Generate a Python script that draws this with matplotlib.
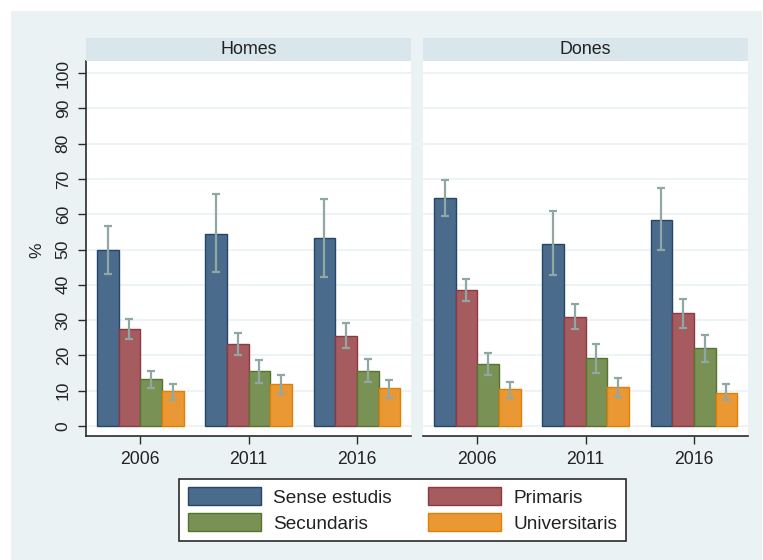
import matplotlib
matplotlib.use('Agg')
import matplotlib.pyplot as plt
from matplotlib.patches import Rectangle, Patch
import numpy as np

plt.rcParams['font.family'] = ['Liberation Sans', 'DejaVu Sans']

years = ['2006', '2011', '2016']
panels = ['Homes', 'Dones']
levels = ['Sense estudis', 'Primaris', 'Secundaris', 'Universitaris']

# Homes: value, lower CI, upper CI (per year)
homes_sense = [50.0, 54.5, 53.4]
homes_sense_lo = [43.1, 43.5, 42.1]
homes_sense_hi = [56.7, 65.7, 64.3]
homes_prim = [27.5, 23.1, 25.5]
homes_prim_lo = [24.7, 20.0, 22.0]
homes_prim_hi = [30.2, 26.4, 29.2]
homes_sec = [13.2, 15.6, 15.6]
homes_sec_lo = [10.7, 12.3, 12.5]
homes_sec_hi = [15.6, 18.6, 19.0]
homes_univ = [9.9, 11.9, 10.9]
homes_univ_lo = [7.4, 9.1, 8.0]
homes_univ_hi = [11.8, 14.5, 13.1]

# Dones
dones_sense = [64.6, 51.6, 58.4]
dones_sense_lo = [59.5, 42.8, 49.9]
dones_sense_hi = [69.8, 60.9, 67.3]
dones_prim = [38.4, 31.0, 31.9]
dones_prim_lo = [35.3, 27.5, 27.8]
dones_prim_hi = [41.6, 34.7, 36.1]
dones_sec = [17.6, 19.3, 22.0]
dones_sec_lo = [14.5, 15.1, 18.2]
dones_sec_hi = [20.8, 23.1, 25.9]
dones_univ = [10.5, 11.1, 9.4]
dones_univ_lo = [7.9, 8.3, 7.4]
dones_univ_hi = [12.6, 13.5, 11.8]

yticks = [0, 10, 20, 30, 40, 50, 60, 70, 80, 90, 100]

data = {
    'Homes': [(homes_sense, homes_sense_lo, homes_sense_hi),
              (homes_prim, homes_prim_lo, homes_prim_hi),
              (homes_sec, homes_sec_lo, homes_sec_hi),
              (homes_univ, homes_univ_lo, homes_univ_hi)],
    'Dones': [(dones_sense, dones_sense_lo, dones_sense_hi),
              (dones_prim, dones_prim_lo, dones_prim_hi),
              (dones_sec, dones_sec_lo, dones_sec_hi),
              (dones_univ, dones_univ_lo, dones_univ_hi)],
}

fills = ['#4A6B8B', '#A65B5F', '#7A9155', '#EA9834']
edges = ['#23466C', '#8C3A42', '#55752F', '#E27F05']
err_color = '#8FA8A3'
bg = '#EAF2F3'
strip_c = '#D9E6EB'
dark = '#2B2B2B'

W, H = 763, 560
fig = plt.figure(figsize=(W / 100, H / 100), dpi=100, facecolor='white')
fig.patches.append(Rectangle((11 / W, 0), (762 - 11) / W, (H - 11) / H,
                             transform=fig.transFigure, facecolor=bg,
                             edgecolor='none', zorder=-10))

ax_lefts = [86, 423]
ax_w = 325
ax_top, ax_bot = 61, 436
strip_top = 38

for i, p in enumerate(panels):
    l = ax_lefts[i]
    ax = fig.add_axes([l / W, 1 - ax_bot / H, ax_w / W, (ax_bot - ax_top) / H])
    ax.set_facecolor('white')
    x = np.arange(len(years))
    bw = 0.2
    for j, (vals, lo, hi) in enumerate(data[p]):
        xs = x + (j - 1.5) * bw
        vals = np.array(vals); lo = np.array(lo); hi = np.array(hi)
        ax.bar(xs, vals, width=bw, color=fills[j], edgecolor=edges[j],
               linewidth=1.0, zorder=3)
        ax.errorbar(xs, vals, yerr=[vals - lo, hi - vals], fmt='none',
                    ecolor=err_color, elinewidth=1.6, capsize=3.2,
                    capthick=1.6, zorder=4)
    ax.set_xlim(-0.5, 2.5)
    ax.set_ylim(-2.83, 103.4)
    ax.set_yticks(yticks)
    ax.grid(axis='y', color=bg, linewidth=1.2, zorder=0)
    ax.set_axisbelow(True)
    ax.set_xticks(x)
    ax.set_xticklabels(years, fontsize=12.7, color='#222222')
    ax.tick_params(axis='x', length=6, width=1, color=dark, pad=5)
    for s in ['top', 'right']:
        ax.spines[s].set_visible(False)
    ax.spines['bottom'].set_color(dark)
    ax.spines['bottom'].set_linewidth(1.2)
    if i == 0:
        ax.spines['left'].set_color(dark)
        ax.spines['left'].set_linewidth(1.2)
        ax.set_yticklabels([str(t) for t in yticks], rotation=90,
                           va='center', fontsize=12.5, color='#222222')
        ax.tick_params(axis='y', length=6, width=1, color=dark, pad=5)
    else:
        ax.spines['left'].set_visible(False)
        ax.tick_params(axis='y', length=0, labelleft=False)
    # strip
    fig.patches.append(Rectangle((l / W, 1 - ax_top / H), ax_w / W,
                                 (ax_top - strip_top) / H,
                                 transform=fig.transFigure, facecolor=strip_c,
                                 edgecolor='none', zorder=1))
    fig.text((l + ax_w / 2) / W, 1 - (strip_top + ax_top) / 2 / H, p,
             ha='center', va='center', fontsize=12.9, color='#222222')

fig.text(37 / W, 1 - 250 / H, '%', rotation=90, ha='center', va='center',
         fontsize=12.5, color='#222222')

order = [0, 2, 1, 3]
handles = [Patch(facecolor=fills[k], edgecolor=edges[k], linewidth=1.0) for k in order]
labels = [levels[k] for k in order]
leg = fig.legend(handles, labels, ncol=2, loc='center',
                 bbox_to_anchor=(402.5 / W, 1 - 510 / H),
                 fontsize=13.7, frameon=True, fancybox=False, shadow=False,
                 handlelength=3.85, handleheight=1.05, handletextpad=0.63,
                 columnspacing=1.9, labelspacing=0.36, borderpad=0.45,
                 framealpha=1)
leg.get_frame().set_edgecolor(dark)
leg.get_frame().set_linewidth(1.2)
for t in leg.get_texts():
    t.set_color('#222222')

fig.savefig('out.png', dpi=100, facecolor='white')
